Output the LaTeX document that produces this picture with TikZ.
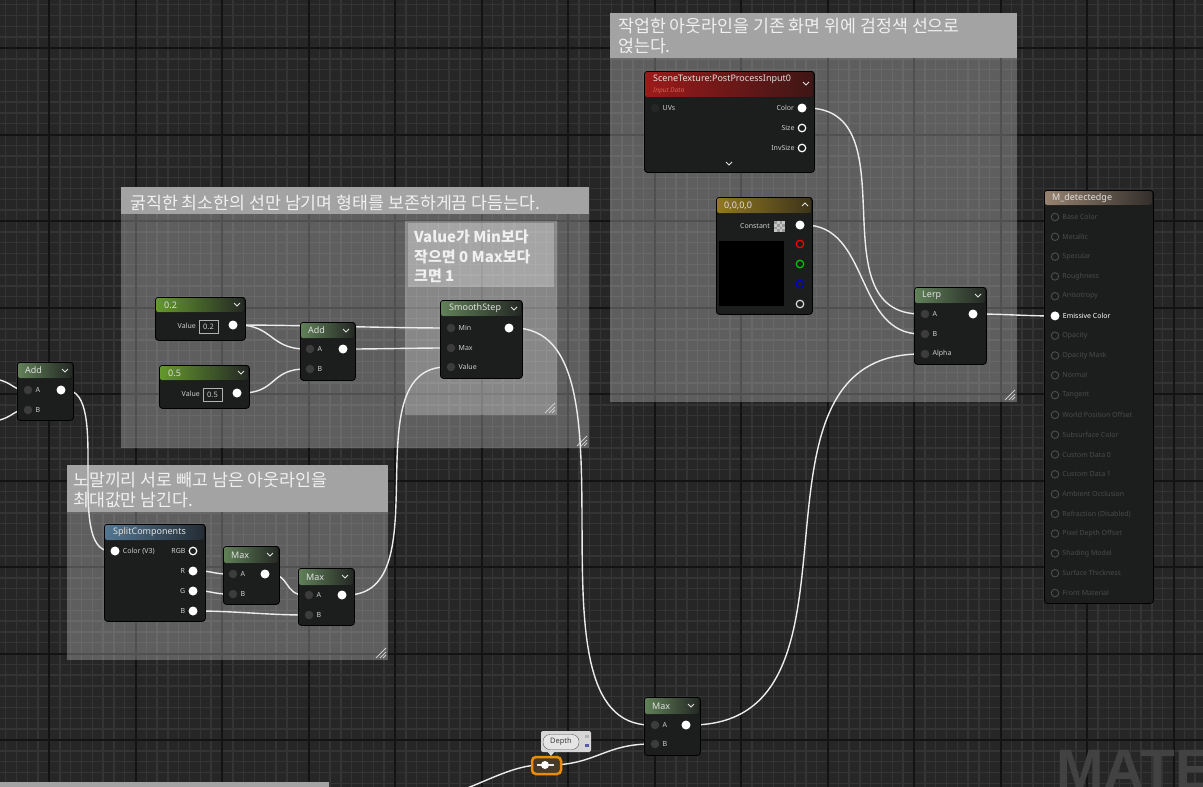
\documentclass[tikz,border=0pt]{standalone}
\usepackage{fontspec}
\setmainfont{Noto Sans}
\newfontfamily\krfont{Noto Sans CJK KR}
\newfontfamily\wmfont{Liberation Sans}

\definecolor{gridbg}{RGB}{38,38,38}
\definecolor{gridminor}{RGB}{52,52,52}
\definecolor{gridmajor}{RGB}{19,19,19}
\definecolor{nodebg}{RGB}{28,30,29}
\definecolor{hdend}{RGB}{36,40,36}
\definecolor{hdmath}{RGB}{96,128,88}
\definecolor{hdconst}{RGB}{100,152,46}
\definecolor{hdscene}{RGB}{156,26,26}
\definecolor{hdsceneend}{RGB}{62,22,22}
\definecolor{hdvec}{RGB}{146,120,34}
\definecolor{hdvecend}{RGB}{60,52,26}
\definecolor{hdsplit}{RGB}{82,118,146}
\definecolor{hdsplitend}{RGB}{36,44,52}
\definecolor{hdresult}{RGB}{150,130,112}
\definecolor{hdresultend}{RGB}{50,46,42}
\definecolor{titletext}{RGB}{224,224,224}
\definecolor{pintext}{RGB}{205,205,205}
\definecolor{pindark}{RGB}{60,60,60}
\definecolor{dimtext}{RGB}{74,74,74}
\definecolor{wirecol}{RGB}{236,236,236}
\definecolor{cmttitle}{RGB}{163,163,163}
\definecolor{rrorange}{RGB}{232,140,10}
\definecolor{rrfill}{RGB}{70,58,40}
\definecolor{tagbg}{RGB}{214,214,214}
\definecolor{wmtext}{RGB}{66,66,66}
\definecolor{scenesub}{RGB}{214,96,84}

\pgfdeclarelayer{gridlayer}
\pgfdeclarelayer{cmtlayer}
\pgfdeclarelayer{wirelayer}
\pgfsetlayers{gridlayer,cmtlayer,wirelayer,main}

\tikzset{
  minorline/.style={draw=gridminor, line width=1.4pt},
  majorline/.style={draw=gridmajor, line width=2pt},
  matbody/.style={draw=black, line width=0.8pt, fill=nodebg, rounded corners=3pt, anchor=north west, inner sep=0pt},
  mattitle/.style={anchor=west, text=titletext, font=\fontsize{9}{9}\selectfont, inner sep=0pt},
  chevron/.style={draw=titletext, line width=1pt},
  inpin/.style={circle, fill=pindark, minimum size=8.5pt, inner sep=0pt},
  outpin/.style={circle, fill=white, minimum size=9pt, inner sep=0pt},
  hollowpin/.style={circle, draw=white, line width=1.2pt, minimum size=7.5pt, inner sep=0pt},
  dimpin/.style={circle, draw=dimtext, line width=1pt, minimum size=7.5pt, inner sep=0pt},
  pinlab/.style={text=pintext, font=\fontsize{7}{8}\selectfont, inner sep=1pt},
  dimlab/.style={text=dimtext, font=\fontsize{7}{8}\selectfont, inner sep=1pt},
  valbox/.style={draw=gray!60, text=pintext, font=\fontsize{7.5}{8}\selectfont, minimum width=19pt, minimum height=13pt, inner sep=0pt},
  wire/.style={draw=wirecol, line width=1.4pt},
  cmtbody/.style={fill=white, fill opacity=0.26},
  cmthead/.style={fill=cmttitle},
  cmttext/.style={anchor=north west, align=left, text=white!94!black, font=\krfont\fontsize{17.3}{20}\selectfont, inner sep=0pt},
  handle/.style={draw=gray!40, line width=0.8pt},
  depthtag/.style={draw=gray!70!black, fill=gray!20, rounded corners=7pt, text=black!75, font=\fontsize{7.5}{8}\selectfont, minimum width=36pt, minimum height=15pt, inner sep=1pt},
}

\begin{document}
\begin{tikzpicture}[x=1pt, y=-1pt, label distance=2pt]
\useasboundingbox (0,0) rectangle (1203,787);

% background grid
\begin{pgfonlayer}{gridlayer}
\fill[gridbg] (0,0) rectangle (1203,787);
\foreach \i in {0,...,115} \draw[minorline] ({-37.5+10.8125*\i},0) -- ++(0,787);
\foreach \j in {0,...,76} \draw[minorline] (0,{-38.5+10.8125*\j}) -- ++(1203,0);
\foreach \i in {0,...,14} \draw[majorline] ({-37.5+86.5*\i},0) -- ++(0,787);
\foreach \j in {0,...,9} \draw[majorline] (0,{-38.5+86.5*\j}) -- ++(1203,0);
\end{pgfonlayer}

% comment boxes
\begin{pgfonlayer}{cmtlayer}
\node[anchor=north west, text=wmtext, font=\wmfont\bfseries\fontsize{57}{57}\selectfont, inner sep=0pt] (wm) at (1056,750) {MATE};

\fill[cmtbody] (121,187) rectangle (589,448);
\fill[cmthead] (121,187) rectangle (589,214);
\node[cmttext] (cmt-a) at (130,195) {굵직한 최소한의 선만 남기며 형태를 보존하게끔 다듬는다.};
\draw[handle] (577,446) -- (587,436) (581,446) -- (587,440) (584,446) -- (587,443);

\fill[cmtbody] (405,221) rectangle (557,415);
\fill[white, fill opacity=0.25] (408,223) rectangle (554,287);
\node[cmttext, font=\krfont\bfseries\fontsize{15}{19.5}\selectfont] (cmt-b) at (414,230) {Value가 Min보다\\작으면 0 Max보다\\크면 1};
\draw[handle] (545,413) -- (555,403) (549,413) -- (555,407) (552,413) -- (555,410);

\fill[cmtbody] (610,13) rectangle (1017,402);
\fill[cmthead] (610,13) rectangle (1017,58);
\node[cmttext] (cmt-c) at (618,18) {작업한 아웃라인을 기존 화면 위에 검정색 선으로\\얹는다.};
\draw[handle] (1005,400) -- (1015,390) (1009,400) -- (1015,394) (1012,400) -- (1015,397);

\fill[cmtbody] (67,465) rectangle (388,660);
\fill[cmthead] (67,465) rectangle (388,512);
\node[cmttext] (cmt-d) at (73,472) {노말끼리 서로 빼고 남은 아웃라인을\\최대값만 남긴다.};
\draw[handle] (376,658) -- (386,648) (380,658) -- (386,652) (383,658) -- (386,655);

\fill[cmthead] (0,782) rectangle (329,790);
\end{pgfonlayer}

% Add (left)
\node[matbody, minimum width=56, minimum height=58] (addl) at (17,362) {};
\fill[left color=hdmath, right color=hdend, rounded corners=2pt] (18,363) rectangle (72,378);
\node[mattitle] (addl-t) at (25,370.5) {Add};
\draw[chevron] (62,369) -- ++(3,3) -- ++(3,-3);
\node[inpin, label={[pinlab]right:A}] (addl-a) at (28,390) {};
\node[inpin, label={[pinlab]right:B}] (addl-b) at (28,410) {};
\node[outpin] (addl-o) at (61,390) {};
\coordinate (offa) at (-10,379);
\coordinate (offb) at (-10,421);

% 0.2
\node[matbody, minimum width=90, minimum height=43] (c02) at (155,297) {};
\fill[left color=hdconst, right color=hdend, rounded corners=2pt] (156,298) rectangle (244,312);
\node[mattitle] (c02-t) at (164,305) {0.2};
\draw[chevron] (234,303) -- ++(3,3) -- ++(3,-3);
\node[pinlab, anchor=east] (c02-l) at (197,326) {Value};
\node[valbox] (c02-v) at (208.5,326.5) {0.2};
\node[outpin] (c02-o) at (233,325) {};

% 0.5
\node[matbody, minimum width=90, minimum height=43] (c05) at (159,365) {};
\fill[left color=hdconst, right color=hdend, rounded corners=2pt] (160,366) rectangle (248,380);
\node[mattitle] (c05-t) at (168,373) {0.5};
\draw[chevron] (238,371) -- ++(3,3) -- ++(3,-3);
\node[pinlab, anchor=east] (c05-l) at (201,394) {Value};
\node[valbox] (c05-v) at (212.5,394.5) {0.5};
\node[outpin] (c05-o) at (237,393) {};

% Add (middle)
\node[matbody, minimum width=55, minimum height=58] (addm) at (300,322) {};
\fill[left color=hdmath, right color=hdend, rounded corners=2pt] (301,323) rectangle (354,338);
\node[mattitle] (addm-t) at (308,330.5) {Add};
\draw[chevron] (343,329) -- ++(3,3) -- ++(3,-3);
\node[inpin, label={[pinlab]right:A}] (addm-a) at (310,349) {};
\node[inpin, label={[pinlab]right:B}] (addm-b) at (310,369) {};
\node[outpin] (addm-o) at (343,349) {};

% SmoothStep
\node[matbody, minimum width=82, minimum height=78] (ss) at (440,300) {};
\fill[left color=hdmath, right color=hdend, rounded corners=2pt] (441,301) rectangle (521,316);
\node[mattitle] (ss-t) at (449,308.5) {SmoothStep};
\draw[chevron] (511,307) -- ++(3,3) -- ++(3,-3);
\node[inpin, label={[pinlab]right:Min}] (ss-min) at (451,328) {};
\node[inpin, label={[pinlab]right:Max}] (ss-max) at (451,348) {};
\node[inpin, label={[pinlab]right:Value}] (ss-val) at (451,367) {};
\node[outpin] (ss-o) at (509,328) {};

% SplitComponents
\node[matbody, minimum width=101, minimum height=97] (sc) at (104,524) {};
\fill[left color=hdsplit, right color=hdsplitend, rounded corners=2pt] (105,525) rectangle (204,540);
\node[mattitle] (sc-t) at (113,532.5) {SplitComponents};
\node[outpin, label={[pinlab]right:Color (V3)}] (sc-c) at (115,551) {};
\node[hollowpin, label={[pinlab]left:RGB}] (sc-rgb) at (193,551) {};
\node[outpin, label={[pinlab]left:R}] (sc-r) at (193,571) {};
\node[outpin, label={[pinlab]left:G}] (sc-g) at (193,591) {};
\node[outpin, label={[pinlab]left:B}] (sc-b) at (193,611) {};

% Max 1
\node[matbody, minimum width=56, minimum height=58] (mx1) at (223,546) {};
\fill[left color=hdmath, right color=hdend, rounded corners=2pt] (224,547) rectangle (278,563);
\node[mattitle] (mx1-t) at (231,555) {Max};
\draw[chevron] (267,553) -- ++(3,3) -- ++(3,-3);
\node[inpin, label={[pinlab]right:A}] (mx1-a) at (233,574) {};
\node[inpin, label={[pinlab]right:B}] (mx1-b) at (233,594) {};
\node[outpin] (mx1-o) at (265,574) {};

% Max 2
\node[matbody, minimum width=56, minimum height=57] (mx2) at (298,568) {};
\fill[left color=hdmath, right color=hdend, rounded corners=2pt] (299,569) rectangle (353,585);
\node[mattitle] (mx2-t) at (306,577) {Max};
\draw[chevron] (342,575) -- ++(3,3) -- ++(3,-3);
\node[inpin, label={[pinlab]right:A}] (mx2-a) at (309,595) {};
\node[inpin, label={[pinlab]right:B}] (mx2-b) at (309,615) {};
\node[outpin] (mx2-o) at (342,595) {};

% SceneTexture
\node[matbody, minimum width=170, minimum height=101] (st) at (644,71) {};
\fill[left color=hdscene, right color=hdsceneend, rounded corners=2pt] (645,72) rectangle (813,97);
\node[mattitle] (st-t) at (653,79) {SceneTexture:PostProcessInput0};
\node[anchor=west, text=scenesub, font=\itshape\fontsize{6.5}{7}\selectfont, inner sep=0pt] (st-s) at (653,90.5) {Input Data};
\draw[chevron] (803,82) -- ++(3,3) -- ++(3,-3);
\node[inpin, fill=black!85, label={[pinlab]right:UVs}] (st-uv) at (655,108) {};
\node[outpin, label={[pinlab]left:Color}] (st-col) at (802,108) {};
\node[hollowpin, label={[pinlab]left:Size}] (st-size) at (802,128) {};
\node[hollowpin, label={[pinlab]left:InvSize}] (st-inv) at (802,148) {};
\draw[chevron] (726,162) -- ++(3,3) -- ++(3,-3);

% Constant 0,0,0,0
\node[matbody, minimum width=96, minimum height=117] (cv) at (716,197) {};
\fill[left color=hdvec, right color=hdvecend, rounded corners=2pt] (717,198) rectangle (811,213);
\node[mattitle] (cv-t) at (724,205.5) {0,0,0,0};
\draw[chevron] (802,206) -- ++(3,-3) -- ++(3,3);
\node[pinlab, anchor=east] (cv-l) at (771,226) {Constant};
\fill[gray!45] (774,221) rectangle (785,232);
\foreach \i/\j in {0/0,2/0,1/1,3/1,0/2,2/2,1/3,3/3} \fill[gray!80] ({774+2.75*\i},{221+2.75*\j}) rectangle +(2.75,2.75);
\fill[black] (719,241) rectangle (784,306);
\node[outpin] (cv-o) at (800,225) {};
\node[hollowpin, draw=red] (cv-r) at (800,244) {};
\node[hollowpin, draw=green!80!black] (cv-g) at (800,264) {};
\node[hollowpin, draw=blue!85!black] (cv-b) at (800,284) {};
\node[hollowpin, draw=gray!30] (cv-a) at (800,304) {};

% Lerp
\node[matbody, minimum width=72, minimum height=77] (lp) at (914,287) {};
\fill[left color=hdmath, right color=hdend, rounded corners=2pt] (915,288) rectangle (985,303);
\node[mattitle] (lp-t) at (922,295.5) {Lerp};
\draw[chevron] (975,294) -- ++(3,3) -- ++(3,-3);
\node[inpin, label={[pinlab]right:A}] (lp-a) at (925,314) {};
\node[inpin, label={[pinlab]right:B}] (lp-b) at (925,334) {};
\node[inpin, label={[pinlab]right:Alpha}] (lp-al) at (925,354) {};
\node[outpin] (lp-o) at (973,314) {};

% result node
\node[matbody, minimum width=109, minimum height=413] (md) at (1044,190) {};
\fill[left color=hdresult, right color=hdresultend, rounded corners=2pt] (1045,191) rectangle (1152,205);
\node[mattitle] (md-t) at (1052,198) {M\_detectedge};
\foreach \y/\lab [count=\i] in {217/Base Color, 236.8/Metallic, 256.6/Specular, 276.4/Roughness, 296.2/Anisotropy, 335.7/Opacity, 355.5/Opacity Mask, 375.3/Normal, 395.1/Tangent, 414.9/World Position Offset, 434.7/Subsurface Color, 454.5/Custom Data 0, 474.3/Custom Data 1, 494.1/Ambient Occlusion, 513.9/Refraction (Disabled), 533.6/Pixel Depth Offset, 553.4/Shading Model, 573.2/Surface Thickness, 593/Front Material}
  \node[dimpin, label={[dimlab]right:\lab}] (md-p\i) at (1055,\y) {};
\node[outpin, label={[pinlab, text=white]right:Emissive Color}] (md-em) at (1055,315.9) {};

% Depth reroute
\fill[tagbg, rounded corners=2pt] (541,731) rectangle (591,752);
\fill[tagbg] (547,751) -- (551,756) -- (555,751) -- cycle;
\node[depthtag] (depth) at (561,742) {Depth};
\fill[gray!60] (585,735) rectangle (589,738);
\fill[blue!30!gray] (585,744) rectangle (589,747);
\draw[rrorange, line width=2.5pt, fill=rrfill, rounded corners=4pt] (532,757) rectangle (561,774);
\draw[wirecol, line width=1.4pt] (537,765) -- (554,765);
\node[outpin, minimum size=8pt] (rr) at (545,765) {};
\coordinate (offd) at (437,795);

% Max (bottom)
\node[matbody, minimum width=56, minimum height=58] (mxb) at (644,697) {};
\fill[left color=hdmath, right color=hdend, rounded corners=2pt] (645,698) rectangle (699,714);
\node[mattitle] (mxb-t) at (652,706) {Max};
\draw[chevron] (688,704) -- ++(3,3) -- ++(3,-3);
\node[inpin, label={[pinlab]right:A}] (mxb-a) at (655,725) {};
\node[inpin, label={[pinlab]right:B}] (mxb-b) at (655,744) {};
\node[outpin] (mxb-o) at (686,725) {};

% wires
\begin{pgfonlayer}{wirelayer}
\draw[wire] (offa) .. controls +(20,0) and +(-15,0) .. (addl-a);
\draw[wire] (offb) .. controls +(20,0) and +(-15,0) .. (addl-b);
\draw[wire] (addl-o) .. controls +(50,0) and +(-50,0) .. (sc-c);
\draw[wire] (sc-r) .. controls +(20,0) and +(-20,0) .. (mx1-a);
\draw[wire] (sc-g) .. controls +(20,0) and +(-20,0) .. (mx1-b);
\draw[wire] (mx1-o) .. controls +(25,0) and +(-25,0) .. (mx2-a);
\draw[wire] (sc-b) .. controls +(40,0) and +(-40,0) .. (mx2-b);
\draw[wire] (mx2-o) .. controls +(100,0) and +(-100,0) .. (ss-val);
\draw[wire] (c02-o) .. controls +(40,0) and +(-40,0) .. (addm-a);
\draw[wire] (c02-o) .. controls +(60,0) and +(-60,0) .. (ss-min);
\draw[wire] (c05-o) .. controls +(40,0) and +(-40,0) .. (addm-b);
\draw[wire] (addm-o) .. controls +(40,0) and +(-40,0) .. (ss-max);
\draw[wire] (ss-o) .. controls +(140,0) and +(-140,0) .. (mxb-a);
\draw[wire] (offd) .. controls +(30,0) and +(-40,0) .. (rr);
\draw[wire] (rr) .. controls +(50,0) and +(-50,0) .. (mxb-b);
\draw[wire] (mxb-o) .. controls +(200,0) and +(-200,0) .. (lp-al);
\draw[wire] (st-col) .. controls +(110,0) and +(-110,0) .. (lp-a);
\draw[wire] (cv-o) .. controls +(70,0) and +(-70,0) .. (lp-b);
\draw[wire] (lp-o) .. controls +(30,0) and +(-30,0) .. (md-em);
\end{pgfonlayer}
\end{tikzpicture}
\end{document}
